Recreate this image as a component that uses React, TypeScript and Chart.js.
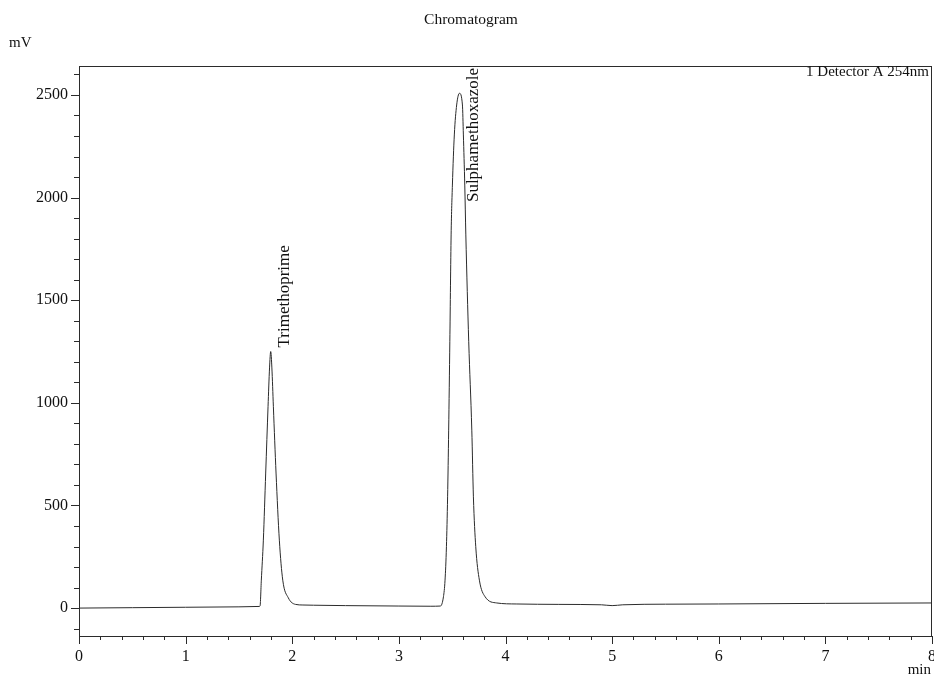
import React, { useEffect, useRef } from 'react';
import { Chart, registerables } from 'chart.js';

Chart.register(...registerables);

// Retention time (min) and detector signal (mV)
const timeMin = [
  0, 0.5, 1.0, 1.5, 1.69,
  1.698, 1.71, 1.729, 1.751, 1.773, 1.787, 1.798, 1.809, 1.823, 1.848, 1.879, 1.911, 1.963, 2.03, 2.1, 2.2,
  2.5, 3.0, 3.3, 3.39,
  3.418, 3.433, 3.446, 3.457, 3.467, 3.478, 3.49, 3.502, 3.52, 3.542, 3.568, 3.596, 3.605, 3.618, 3.628,
  3.655, 3.684, 3.699, 3.721, 3.755, 3.809, 3.918, 4.1, 4.5, 4.9, 5.0, 5.1, 5.5, 6.0, 7.0, 8.0,
];
const signalMV = [
  0, 2, 4, 6, 8,
  10, 136, 331, 658, 981, 1170, 1250, 1170, 981, 658, 331, 136, 50, 18, 15, 14,
  12, 10, 9, 10,
  55, 136, 299, 542, 867, 1300, 1818, 2061, 2305, 2451, 2508, 2451, 2305, 2061, 1818,
  1300, 867, 542, 299, 136, 55, 25, 20, 18, 16, 12, 16, 19, 20, 23, 25,
];

const peakNames = ['Trimethoprime', 'Sulphamethoxazole'];
const peakTimes = [1.798, 3.568];
const peakHeights = [1250, 2508];

const yMajorTicks = [0, 500, 1000, 1500, 2000, 2500];
const xMajorTicks = [0, 1, 2, 3, 4, 5, 6, 7, 8];
const yMinorStep = 100;
const xMinorStep = 0.2;

const chartTitle = 'Chromatogram';
const yUnit = 'mV';
const xUnit = 'min';
const detectorLabel = '1 Detector A 254nm';

const FONT = '"Liberation Serif", "Times New Roman", serif';
const INK = '#2b2b2b';

export default function App() {
  const canvasRef = useRef<HTMLCanvasElement | null>(null);

  useEffect(() => {
    const canvas = canvasRef.current;
    if (!canvas) return;

    const points = timeMin.map((t, i) => ({ x: t, y: signalMV[i] }));

    const yTickValues: number[] = [];
    for (let v = -yMinorStep; v <= 2600; v += yMinorStep) yTickValues.push(v);
    const xTickValues: number[] = [];
    for (let i = 0; i <= Math.round(8 / xMinorStep); i++) xTickValues.push(Math.round(i * xMinorStep * 10) / 10);

    const decor = {
      id: 'decor',
      afterDraw(chart: any) {
        const ctx = chart.ctx as CanvasRenderingContext2D;
        const { left, right, top, bottom } = chart.chartArea;
        const xs = chart.scales.x;
        const ys = chart.scales.y;
        ctx.save();
        ctx.strokeStyle = INK;
        ctx.lineWidth = 1;
        // frame
        ctx.strokeRect(Math.round(left) + 0.5, Math.round(top) + 0.5, Math.round(right - left) - 1, Math.round(bottom - top));
        // y ticks
        ctx.beginPath();
        ys.ticks.forEach((tk: any) => {
          const py = Math.round(ys.getPixelForValue(tk.value)) + 0.5;
          const len = yMajorTicks.includes(tk.value) ? 8 : 5;
          ctx.moveTo(left - len, py);
          ctx.lineTo(left, py);
        });
        // x ticks
        xs.ticks.forEach((tk: any) => {
          const px = Math.round(xs.getPixelForValue(tk.value)) + 0.5;
          const len = xMajorTicks.includes(tk.value) ? 8 : 4;
          ctx.moveTo(px, bottom);
          ctx.lineTo(px, bottom + len);
        });
        ctx.stroke();

        ctx.fillStyle = '#111';
        ctx.textBaseline = 'middle';
        ctx.font = `15.5px ${FONT}`;
        ctx.textAlign = 'center';
        ctx.fillText(chartTitle, chart.width / 2 + 4, 20);
        ctx.font = `15px ${FONT}`;
        ctx.textAlign = 'left';
        ctx.fillText(yUnit, 9, 43);
        ctx.textAlign = 'right';
        ctx.fillText(xUnit, right - 1, 670);
        ctx.fillText(detectorLabel, right - 3, top + 6);

        // peak labels, rotated
        ctx.font = `17px ${FONT}`;
        peakNames.forEach((name, i) => {
          const px = xs.getPixelForValue(peakTimes[i]) + 14;
          const py = ys.getPixelForValue(peakHeights[i]);
          const w = ctx.measureText(name).width;
          let start = py - 4;
          if (start - w < top + 2) start = top + 2 + w;
          ctx.save();
          ctx.translate(px, start);
          ctx.rotate(-Math.PI / 2);
          ctx.textAlign = 'left';
          ctx.textBaseline = 'middle';
          ctx.fillText(name, 0, 0);
          ctx.restore();
        });
        ctx.restore();
      },
    };

    const chart = new Chart(canvas, {
      type: 'line',
      data: {
        datasets: [
          {
            label: detectorLabel,
            data: points,
            borderColor: INK,
            borderWidth: 1,
            pointRadius: 0,
            fill: false,
            cubicInterpolationMode: 'monotone',
          },
        ],
      },
      options: {
        animation: false,
        responsive: true,
        maintainAspectRatio: false,
        layout: { padding: { top: 66, right: 2, left: 0, bottom: 0 } },
        plugins: {
          legend: { display: false },
          title: { display: false },
          tooltip: { enabled: false },
        },
        scales: {
          x: {
            type: 'linear',
            min: 0,
            max: 8,
            grid: { display: false },
            border: { display: false },
            afterBuildTicks: (scale: any) => {
              scale.ticks = xTickValues.map((v) => ({ value: v }));
            },
            afterFit: (scale: any) => {
              scale.height = 41;
              scale.paddingLeft = 0;
              scale.paddingRight = 0;
            },
            ticks: {
              autoSkip: false,
              maxRotation: 0,
              padding: 3,
              color: '#111',
              font: { family: FONT, size: 16 },
              callback: (v: any) => (xMajorTicks.includes(Number(v)) ? String(v) : ''),
            },
          },
          y: {
            type: 'linear',
            min: -136,
            max: 2641,
            grid: { display: false },
            border: { display: false },
            afterBuildTicks: (scale: any) => {
              scale.ticks = yTickValues.map((v) => ({ value: v }));
            },
            afterFit: (scale: any) => {
              scale.width = 79;
              scale.paddingTop = 0;
              scale.paddingBottom = 0;
            },
            ticks: {
              autoSkip: false,
              padding: 3,
              color: '#111',
              font: { family: FONT, size: 16 },
              callback: (v: any) => (yMajorTicks.includes(Number(v)) ? String(v) : ''),
            },
          },
        },
      },
      plugins: [decor],
    } as any);

    return () => chart.destroy();
  }, []);

  return (
    <div style={{ position: 'fixed', left: 0, top: 0, width: 934, height: 677, background: '#fff' }}>
      <canvas ref={canvasRef} />
    </div>
  );
}
